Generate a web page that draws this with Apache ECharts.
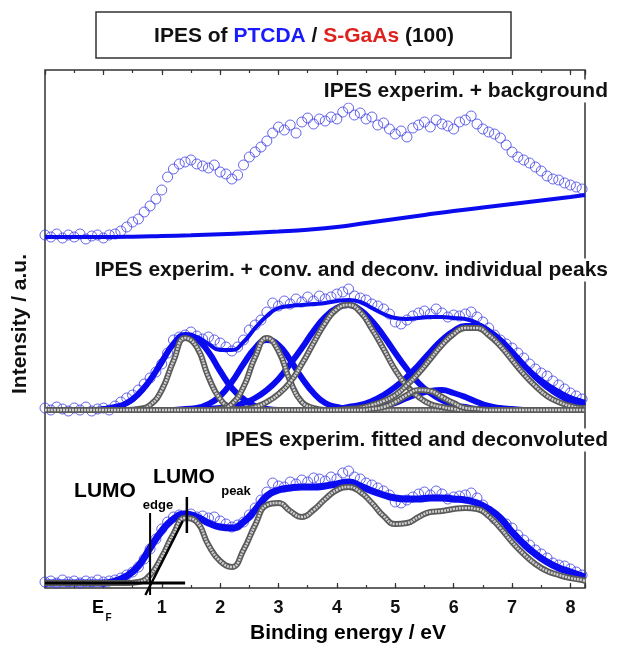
<!DOCTYPE html>
<html>
<head>
<meta charset="utf-8">
<script src="https://cdn.jsdelivr.net/npm/echarts@6/dist/echarts.min.js"></script>
<style>
  html, body { margin: 0; padding: 0; background: #fff; }
  #chart { width: 621px; height: 647px; }
</style>
</head>
<body>
<div id="chart"></div>
<script>
// ---- Measurement grid (binding energy, eV) for the IPES data points ----
const energy = [];
for (let i = 0; i <= 92; i++) energy.push((i - 10) / 10);   // -1.0 ... 8.2 eV

// Energy grid for the fitted / deconvoluted curves
const curveEnergy = [
  -1.0, -0.8, -0.6, -0.4, -0.2, 0.0, 0.2, 0.4,
   0.6,  0.8,  1.0,  1.2,  1.4, 1.6, 1.8, 2.0,
   2.2,  2.4,  2.6,  2.8,  3.0, 3.2, 3.4, 3.6,
   3.8,  4.0,  4.2,  4.4,  4.6, 4.8, 5.0, 5.2,
   5.4,  5.6,  5.8,  6.0,  6.2, 6.4, 6.6, 6.8,
   7.0,  7.2,  7.4,  7.6,  7.8, 8.0, 8.2, 8.25
];

// Axis tick labels
const tickLabels = ['1', '2', '3', '4', '5', '6', '7', '8'];

// ---- Top spectrum: raw IPES counts and the background ----
const rawCounts = [
  2, 0, 3, -1, 2, 0, 3, -2, 1, 2,
  -1, 2, 3, 6, 10, 15, 18, 25, 31, 38,
  47, 60, 68, 73, 75, 77, 73, 71, 69, 72,
  65, 63, 58, 62, 72, 80, 85, 90, 96, 104,
  110, 107, 112, 104, 115, 119, 113, 118, 116, 120,
  118, 125, 129, 122, 124, 118, 120, 112, 114, 108,
  103, 106, 100, 109, 112, 115, 110, 117, 113, 111,
  108, 115, 117, 121, 113, 108, 105, 103, 99, 92,
  85, 80, 77, 74, 70, 66, 61, 58, 57, 54,
  52, 50, 48
];
const backgroundEnergy = [-1, -0.5, 0, 0.5, 1, 1.5, 2, 2.5, 3, 3.5, 4, 4.5, 5, 5.5, 6, 6.5, 7, 7.5, 8, 8.25];
const backgroundCounts = [0, 0, 0, 0.3, 1, 1.8, 2.8, 4, 5.5, 7.3, 10, 14, 18, 22, 26, 29.5, 33, 36.5, 40, 42];

// ---- Middle spectrum: background-corrected data, fit and individual peaks ----
const correctedCounts = [
  2, 0, 3, 1, -1, 2, 0, 3, -1, 1,
  2, 0, 4, 8, 12, 15, 20, 26, 32, 38,
  46, 57, 70, 73, 75, 78, 74, 71, 73, 70,
  67, 63, 59, 63, 70, 80, 85, 90, 98, 107,
  104, 109, 106, 111, 108, 113, 109, 114, 111, 113,
  116, 118, 121, 114, 112, 110, 106, 104, 101, 96,
  88, 86, 90, 94, 97, 99, 96, 101, 97, 93,
  95, 94, 96, 98, 93, 88, 82, 75, 70, 66,
  62, 57, 52, 46, 41, 37, 34, 29, 25, 21,
  17, 14, 11
];
const convFit = [
  0, 0, 0, 0, 0, 0, 2, 6,
  15, 30, 50, 66, 75, 73, 66, 60,
  60, 68, 82, 94, 102, 104, 105, 106,
  107, 109, 110, 108, 102, 96, 92, 91,
  92, 93, 93, 92, 91, 87, 80, 70,
  58, 46, 35, 26, 19, 13, 9, 8
];
// convoluted (broad) peaks
const convPeak1 = [
  0, 0, 0, 0, 0, 1, 3, 7,
  16, 30, 48, 66, 75, 71, 58, 39,
  22, 11, 4, 1, 0, 0, 0, 0,
  0, 0, 0, 0, 0, 0, 0, 0,
  0, 0, 0, 0, 0, 0, 0, 0,
  0, 0, 0, 0, 0, 0, 0, 0
];
const convPeak2 = [
  0, 0, 0, 0, 0, 0, 0, 0,
  0, 0, 0, 0, 1, 2, 6, 14,
  28, 46, 62, 70, 65, 50, 32, 17,
  7, 3, 1, 0, 0, 0, 0, 0,
  0, 0, 0, 0, 0, 0, 0, 0,
  0, 0, 0, 0, 0, 0, 0, 0
];
const convPeak3 = [
  0, 0, 0, 0, 0, 0, 0, 0,
  0, 0, 0, 0, 0, 0, 1, 2,
  3, 7, 12, 20, 31, 46, 62, 79,
  93, 102, 105, 100, 89, 74, 57, 41,
  27, 17, 10, 5, 3, 1, 1, 0,
  0, 0, 0, 0, 0, 0, 0, 0
];
const convPeak4 = [
  0, 0, 0, 0, 0, 0, 0, 0,
  0, 0, 0, 0, 0, 0, 0, 0,
  0, 0, 0, 0, 0, 0, 0, 0,
  0, 1, 3, 5, 9, 15, 23, 33,
  45, 58, 70, 79, 84, 84, 79, 70,
  58, 45, 33, 23, 15, 9, 5, 4
];
const convPeak5 = [
  0, 0, 0, 0, 0, 0, 0, 0,
  0, 0, 0, 0, 0, 0, 0, 0,
  0, 0, 0, 0, 0, 0, 0, 0,
  0, 0, 0, 1, 2, 4, 7, 12,
  16, 19, 20, 17, 13, 8, 4, 2,
  1, 0, 0, 0, 0, 0, 0, 0
];
// deconvoluted (narrow) peaks
const deconvPeak1 = [
  0, 0, 0, 0, 0, 0, 0, 0,
  1, 5, 20, 49, 72, 63, 33, 11,
  2, 0, 0, 0, 0, 0, 0, 0,
  0, 0, 0, 0, 0, 0, 0, 0,
  0, 0, 0, 0, 0, 0, 0, 0,
  0, 0, 0, 0, 0, 0, 0, 0
];
const deconvPeak2 = [
  0, 0, 0, 0, 0, 0, 0, 0,
  0, 0, 0, 0, 0, 0, 0, 1,
  6, 23, 53, 72, 59, 29, 8, 2,
  0, 0, 0, 0, 0, 0, 0, 0,
  0, 0, 0, 0, 0, 0, 0, 0,
  0, 0, 0, 0, 0, 0, 0, 0
];
const deconvPeak3 = [
  0, 0, 0, 0, 0, 0, 0, 0,
  0, 0, 0, 0, 0, 0, 0, 0,
  0, 1, 3, 8, 16, 28, 46, 67,
  87, 101, 105, 98, 81, 61, 40, 24,
  13, 6, 3, 1, 0, 0, 0, 0,
  0, 0, 0, 0, 0, 0, 0, 0
];
const deconvPeak4 = [
  0, 0, 0, 0, 0, 0, 0, 0,
  0, 0, 0, 0, 0, 0, 0, 0,
  0, 0, 0, 0, 0, 0, 0, 0,
  0, 0, 1, 2, 5, 9, 15, 25,
  37, 51, 65, 76, 82, 82, 75, 64,
  50, 36, 24, 14, 8, 4, 2, 2
];
const deconvPeak5 = [
  0, 0, 0, 0, 0, 0, 0, 0,
  0, 0, 0, 0, 0, 0, 0, 0,
  0, 0, 0, 0, 0, 0, 0, 0,
  0, 0, 0, 0, 1, 3, 8, 15,
  20, 19, 13, 7, 2, 1, 0, 0,
  0, 0, 0, 0, 0, 0, 0, 0
];

// ---- Bottom spectrum: data, total fit and deconvoluted sum ----
const bottomCounts = [
  1, 2, 0, 3, 1, 2, 0, 2, 1, 3,
  1, 2, 3, 5, 8, 11, 16, 24, 34, 44,
  54, 61, 66, 68, 67, 69, 66, 67, 65, 66,
  62, 59, 56, 58, 61, 68, 75, 83, 91, 100,
  97, 96, 101, 99, 103, 101, 105, 104, 102, 106,
  104, 110, 112, 106, 104, 100, 98, 95, 92, 88,
  81, 80, 83, 86, 89, 91, 88, 92, 89, 84,
  86, 87, 88, 90, 85, 78, 70, 64, 61, 59,
  55, 48, 43, 38, 33, 29, 25, 20, 18, 17,
  14, 11, 8
];
const totalFit = [
  0, 0, 0, 0, 0, 0, 2, 7,
  17, 35, 52, 64, 69, 66, 60, 56,
  55, 61, 73, 87, 93, 95, 96, 96,
  97, 99, 101, 97, 92, 88, 85, 84,
  84, 85, 85, 84, 83, 80, 74, 65,
  51, 39, 29, 21, 15, 11, 7, 6
];
const deconvSum = [
  0, 0, 0, 0, 0, 0, 0, 0,
  1, 8, 26, 49, 65, 61, 38, 22,
  16, 33, 58, 78, 80, 72, 66, 73,
  84, 93, 96, 91, 80, 67, 59, 60,
  66, 71, 72, 74, 75, 74, 67, 55,
  41, 29, 19, 12, 8, 5, 3, 2
];
// LUMO edge / peak construction lines
const baselineSegment = [[-1.0, 0], [1.4, 0]];
const edgeMarker = [[0.8, -12], [0.8, 70]];
const edgeTangent = [[0.72, -12], [1.36, 62]];
const peakMarker = [[1.43, 50], [1.43, 86]];

// ---------------------------------------------------------------------
const FONT = '"Liberation Sans", Arial, Helvetica, sans-serif';
const BLUE = '#0b0bf0';
const CIRCLE_BLUE = '#4040e6';
const INK = '#111';

const chart = echarts.init(document.getElementById('chart'), null, { renderer: 'canvas' });

function pairs(xs, ys) { return xs.map((x, i) => [x, ys[i]]); }

function dataCircles(values, axis) {
  return {
    type: 'scatter', xAxisIndex: axis, yAxisIndex: axis,
    data: pairs(energy, values), symbol: 'circle', symbolSize: 10, clip: false,
    itemStyle: { color: 'transparent', borderColor: CIRCLE_BLUE, borderWidth: 1 },
    silent: true
  };
}
function blueCurve(xs, values, axis, width) {
  return {
    type: 'line', xAxisIndex: axis, yAxisIndex: axis, data: pairs(xs, values),
    smooth: true, symbol: 'none', clip: false, silent: true,
    lineStyle: { color: BLUE, width: width }
  };
}
// a chain of small grey circles: dark rim with a pale core
function greyChain(values, axis) {
  return [
    { type: 'line', xAxisIndex: axis, yAxisIndex: axis, data: pairs(curveEnergy, values),
      smooth: true, symbol: 'none', clip: false, silent: true,
      lineStyle: { color: '#5a5a5a', width: 6 } },
    { type: 'line', xAxisIndex: axis, yAxisIndex: axis, data: pairs(curveEnergy, values),
      smooth: true, symbol: 'none', clip: false, silent: true,
      lineStyle: { color: '#cfcfcf', width: 2.6, type: [2, 1] } }
  ];
}
function blackSegment(points, axis, width) {
  return {
    type: 'line', xAxisIndex: axis, yAxisIndex: axis, data: points,
    symbol: 'none', clip: false, silent: true,
    lineStyle: { color: '#000', width: width }
  };
}

const tickStyle = { lineStyle: { color: '#333', width: 1.2 } };
function frameAxis(grid, position, interval, len, labels) {
  return {
    type: 'value', gridIndex: grid, position: position, min: -1, max: 8.25, interval: interval,
    axisLine: { show: false },
    axisTick: Object.assign({ show: true, inside: true, length: len }, tickStyle),
    splitLine: { show: false },
    axisLabel: labels ? {
      show: true, margin: 11, color: INK, fontFamily: FONT, fontSize: 18, fontWeight: 'bold',
      formatter: v => (Number.isInteger(v) && v >= 1 && v <= 8) ? tickLabels[v - 1] : ''
    } : { show: false }
  };
}
function hiddenX(grid) {
  return { type: 'value', gridIndex: grid, min: -1, max: 8.25, show: false };
}
function hiddenY(grid, min, max) {
  const a = { type: 'value', gridIndex: grid, show: false };
  if (min !== undefined) { a.min = min; a.max = max; }
  return a;
}

const series = [];
// top panel
series.push({
  type: 'line', xAxisIndex: 4, yAxisIndex: 2, data: pairs(backgroundEnergy, backgroundCounts),
  smooth: true, symbol: 'none', clip: false, silent: true, lineStyle: { color: BLUE, width: 4 }
});
series.push(dataCircles(rawCounts, 2));
// middle panel
[convPeak1, convPeak2, convPeak3, convPeak4, convPeak5].forEach(p => series.push(blueCurve(curveEnergy, p, 3, 6)));
series.push(blueCurve(curveEnergy, convFit, 3, 4));
series.push(dataCircles(correctedCounts, 3));
[deconvPeak1, deconvPeak2, deconvPeak3, deconvPeak4, deconvPeak5].forEach(p => greyChain(p, 3).forEach(s => series.push(s)));
// bottom panel
series.push(blueCurve(curveEnergy, totalFit, 4, 7));
series.push(dataCircles(bottomCounts, 4));
greyChain(deconvSum, 4).forEach(s => series.push(s));
series.push(blackSegment(baselineSegment, 4, 3));
series.push(blackSegment(edgeMarker, 4, 2));
series.push(blackSegment(edgeTangent, 4, 2.5));
series.push(blackSegment(peakMarker, 4, 2.5));

// yAxis indices: 0 frame, 1 minor-tick grid, 2 top, 3 middle, 4 bottom
// xAxis indices: 0 bottom major, 1 top major, 2 bottom minor, 3 top minor, 4..6 panels
const xAxis = [
  frameAxis(0, 'bottom', 1, 5, true),
  frameAxis(0, 'top', 1, 5, false),
  frameAxis(1, 'bottom', 0.5, 3, false),
  frameAxis(1, 'top', 0.5, 3, false),
  hiddenX(2), hiddenX(3), hiddenX(4)
];
// panel x axes are 4,5,6 -> map series axis index for x
series.forEach(s => {
  const panel = s.yAxisIndex;           // 2,3,4
  s.xAxisIndex = panel + 2;             // 4,5,6
});

const yAxis = [
  hiddenY(0, 0, 1), hiddenY(1, 0, 1),
  hiddenY(2, -13, 167), hiddenY(3, -10, 160), hiddenY(4, -5, 163)
];

function heading(text, y) {
  return {
    type: 'text', x: 608, y: y, z: 100,
    style: { text: text, fill: INK, fontFamily: FONT, fontSize: 21, fontWeight: 'bold',
             align: 'right', verticalAlign: 'middle', backgroundColor: '#fff', padding: [1, 0, 1, 2] }
  };
}
function label(text, x, y, size) {
  return {
    type: 'text', x: x, y: y, z: 100,
    style: { text: text, fill: '#000', fontFamily: FONT, fontSize: size, fontWeight: 'bold',
             align: 'center', verticalAlign: 'middle' }
  };
}

const option = {
  animation: false,
  backgroundColor: '#fff',
  grid: [
    { left: 45, right: 36, top: 70, bottom: 59, show: true, borderColor: '#333', borderWidth: 1.5, backgroundColor: 'transparent' },
    { left: 45, right: 36, top: 70, bottom: 59 },
    { left: 45, right: 36, top: 70, height: 180 },
    { left: 45, right: 36, top: 250, height: 170 },
    { left: 45, right: 36, top: 420, height: 168 }
  ],
  xAxis: xAxis,
  yAxis: yAxis,
  series: series,
  graphic: [
    { type: 'rect', z: 100, shape: { x: 96, y: 12, width: 415, height: 46 },
      style: { fill: '#fff', stroke: '#333', lineWidth: 1.5 } },
    { type: 'text', x: 304, y: 36, z: 101,
      style: {
        text: '{k|IPES of }{b|PTCDA}{k| / }{r|S-GaAs}{k| (100)}',
        align: 'center', verticalAlign: 'middle',
        rich: {
          k: { fill: INK, fontFamily: FONT, fontSize: 21, fontWeight: 'bold' },
          b: { fill: '#1a1aff', fontFamily: FONT, fontSize: 21, fontWeight: 'bold' },
          r: { fill: '#e0201c', fontFamily: FONT, fontSize: 21, fontWeight: 'bold' }
        }
      } },
    heading('IPES experim. + background', 91),
    heading('IPES experim. + conv. and deconv. individual peaks', 270),
    heading('IPES experim. fitted and deconvoluted', 440),
    label('LUMO', 105, 491, 21),
    label('edge', 158, 505, 13),
    label('LUMO', 184, 477, 21),
    label('peak', 236, 491, 13),
    label('E', 98, 608, 18),
    label('F', 108.5, 618, 10),
    label('Binding energy / eV', 348, 633, 21),
    { type: 'text', x: 20, y: 324, z: 100, rotation: Math.PI / 2,
      style: { text: 'Intensity / a.u.', fill: INK, fontFamily: FONT, fontSize: 21, fontWeight: 'bold',
               align: 'center', verticalAlign: 'middle' } }
  ]
};

chart.setOption(option);
</script>
</body>
</html>
